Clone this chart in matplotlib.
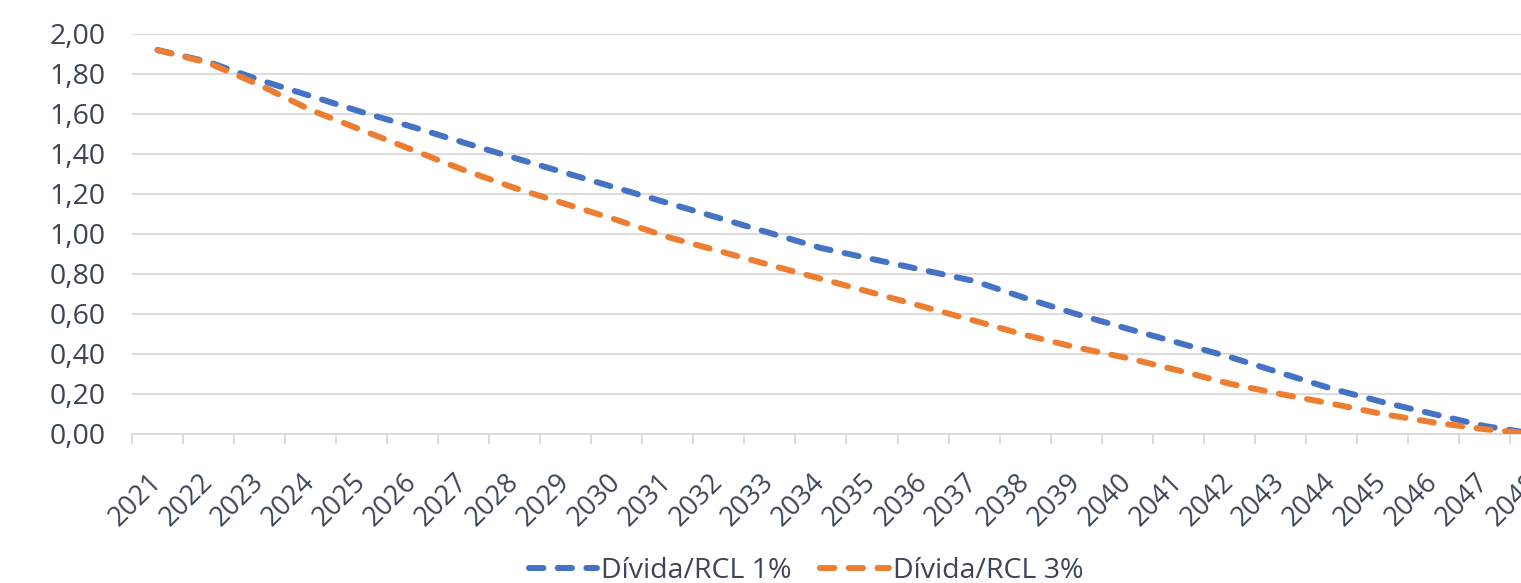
import numpy as np
import matplotlib.pyplot as plt
from matplotlib.ticker import FixedLocator, FuncFormatter

anos = list(range(2021, 2049))
divida_1 = [1.92, 1.86, 1.77, 1.69, 1.61, 1.535, 1.457, 1.38, 1.305, 1.23,
            1.155, 1.08, 1.005, 0.93, 0.875, 0.82, 0.765, 0.68, 0.60, 0.527,
            0.456, 0.386, 0.306, 0.227, 0.16, 0.10, 0.04, 0.0]
divida_3 = [1.92, 1.855, 1.745, 1.62, 1.52, 1.42, 1.32, 1.23, 1.15, 1.07,
            0.985, 0.915, 0.845, 0.776, 0.707, 0.637, 0.567, 0.495, 0.433, 0.38,
            0.318, 0.252, 0.20, 0.152, 0.10, 0.058, 0.024, 0.0]
nomes = ['Dívida/RCL 1%', 'Dívida/RCL 3%']
cores = ['#4472C4', '#ED7D31']

plt.rcParams['font.family'] = ['Open Sans', 'DejaVu Sans']
txt = '#3b4556'
grade = '#d9d9d9'
fs = 20.5

fig = plt.figure(figsize=(15.21, 5.83), dpi=100)
# plot area runs past the right edge, like the cropped original
ax = fig.add_axes([132 / 1521, 149 / 583, 1429 / 1521, 400 / 583])

x = np.arange(len(anos))
for serie, nome, cor in zip([divida_1, divida_3], nomes, cores):
    ax.plot(x, serie, color=cor, lw=4.3, dashes=(2.4, 2.4),
            dash_capstyle='round', label=nome, zorder=3)

ax.set_xlim(-0.5, len(anos) - 0.5)
ax.set_ylim(0, 2.0)
ax.set_yticks(np.arange(0, 2.01, 0.2))
ax.yaxis.set_major_formatter(FuncFormatter(lambda v, p: f'{v:.2f}'.replace('.', ',')))
ax.grid(axis='y', color=grade, lw=1.3, zorder=0)

ax.set_xticks(x)
ax.set_xticklabels([str(a) for a in anos], rotation=45, ha='right',
                   rotation_mode='anchor', va='center')
ax.xaxis.set_minor_locator(FixedLocator(np.arange(-0.5, len(anos), 1)))
ax.tick_params(axis='x', which='major', length=0, pad=32, labelsize=19.5, labelcolor=txt)
ax.tick_params(axis='x', which='minor', length=7, width=1.3, color=grade, direction='out')
ax.tick_params(axis='y', length=0, pad=19, labelsize=fs, labelcolor=txt)

for s in ['top', 'right', 'left']:
    ax.spines[s].set_visible(False)
ax.spines['bottom'].set_color(grade)
ax.spines['bottom'].set_linewidth(1.3)

fig.legend(loc='center', bbox_to_anchor=(806 / 1521, 12 / 583), ncol=2,
           frameon=False, fontsize=fs, labelcolor=txt, handlelength=2.4,
           handletextpad=0.15, columnspacing=1.0)

fig.savefig('out.png', dpi=100)
